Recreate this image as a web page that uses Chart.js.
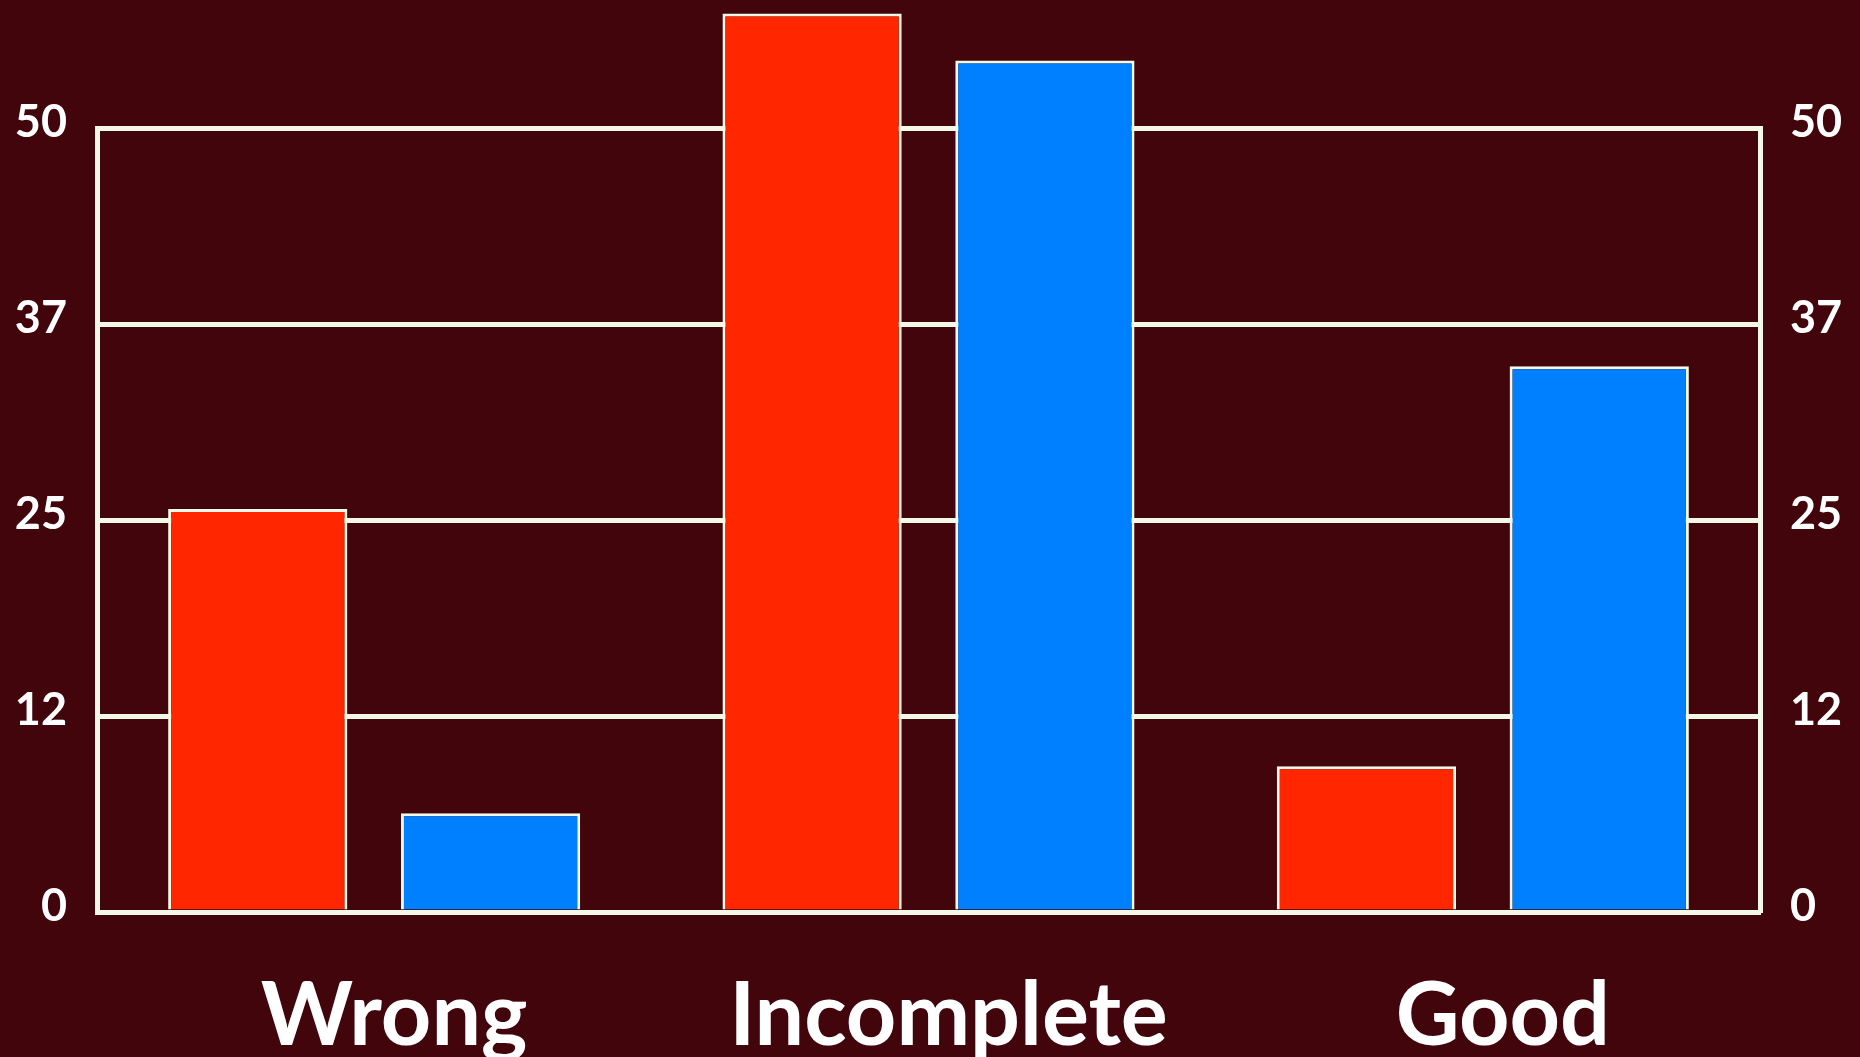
<!DOCTYPE html>
<html>
<head>
<meta charset="utf-8">
<script src="https://cdn.jsdelivr.net/npm/chart.js@4.4.1/dist/chart.umd.min.js"></script>
<style>
  html, body { margin: 0; padding: 0; background: #42050c; }
  #wrap { width: 1860px; height: 1057px; position: relative; }
</style>
</head>
<body>
<div id="wrap"><canvas id="scoreChart"></canvas></div>
<script>
// Colors
const slideColors = {
  bg: "#42050c",
  red: "#ff2600",
  blue: "#0080ff",
  line: "#f2f9e6",
  text: "#ffffff",
};

const categories = ["Wrong", "Incomplete", "Good"];
const redValues = [25.7, 57.3, 9.3];
const blueValues = [6.3, 54.3, 34.8];
const tickValues = [0, 12.5, 25, 37.5, 50];
const tickLabels = ["0", "12", "25", "37", "50"];

function tickText(value) {
  const i = tickValues.indexOf(value);
  return i >= 0 ? tickLabels[i] : "";
}

const yTicks = {
  color: slideColors.text,
  font: { family: "Lato", weight: "bold", size: 45 },
  padding: 30,
  labelOffset: -6,
  callback: tickText,
};

new Chart(document.getElementById("scoreChart").getContext("2d"), {
  type: "bar",
  data: {
    labels: categories,
    datasets: [
      {
        data: redValues,
        backgroundColor: slideColors.red,
        borderColor: slideColors.line,
        borderWidth: 3,
        clip: false,
      },
      {
        data: blueValues,
        backgroundColor: slideColors.blue,
        borderColor: slideColors.line,
        borderWidth: 3,
        clip: false,
      },
    ],
  },
  options: {
    responsive: true,
    maintainAspectRatio: false,
    animation: false,
    layout: { padding: { top: 128, left: 0, right: 0, bottom: 0 } },
    datasets: {
      bar: { categoryPercentage: 0.84, barPercentage: 0.77 },
    },
    plugins: {
      legend: { display: false },
      title: { display: false },
      tooltip: { enabled: false },
    },
    scales: {
      x: {
        grid: { display: false },
        border: { display: true, color: slideColors.line, width: 5 },
        ticks: {
          color: slideColors.text,
          font: { family: "Lato", weight: "bold", size: 88 },
          padding: 44,
          labelOffset: 20,
          maxRotation: 0,
        },
        afterFit: (s) => { s.height = 145; },
      },
      y: {
        position: "left",
        min: 0,
        max: 50,
        afterBuildTicks: (s) => { s.ticks = tickValues.map((v) => ({ value: v })); },
        grid: { color: slideColors.line, lineWidth: 5, drawTicks: false },
        border: { display: true, color: slideColors.line, width: 5 },
        ticks: yTicks,
        afterFit: (s) => { s.width = 97; },
      },
      y2: {
        position: "right",
        min: 0,
        max: 50,
        afterBuildTicks: (s) => { s.ticks = tickValues.map((v) => ({ value: v })); },
        grid: { display: false, drawTicks: false },
        border: { display: true, color: slideColors.line, width: 5 },
        ticks: yTicks,
        afterFit: (s) => { s.width = 100; },
      },
    },
  },
});
</script>
</body>
</html>
